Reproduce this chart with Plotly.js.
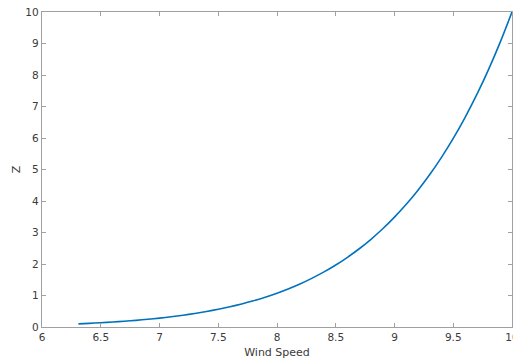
<!DOCTYPE html>
<html>
<head>
<meta charset="utf-8">
<script src="https://cdn.plot.ly/plotly-3.0.1.min.js"></script>
<style>
  html, body { margin: 0; padding: 0; background: #fff; }
  #chart { width: 513px; height: 360px; }
</style>
</head>
<body>
<div id="chart"></div>
<script>
// Height profile: wind speed against height Z
const windSpeed = [6.31, 6.4, 6.5, 6.6, 6.7, 6.8, 6.9, 7.0, 7.1, 7.2, 7.3, 7.4, 7.5, 7.6, 7.7, 7.8, 7.9,
  8.0, 8.1, 8.2, 8.3, 8.4, 8.5, 8.6, 8.7, 8.8, 8.9, 9.0, 9.1, 9.2, 9.3, 9.4, 9.5, 9.6, 9.7, 9.8, 9.9, 10.0];
const heightZ = [0.10, 0.115, 0.135, 0.157, 0.182, 0.211, 0.245, 0.282, 0.326, 0.374, 0.430, 0.492, 0.563,
  0.643, 0.733, 0.834, 0.947, 1.074, 1.216, 1.374, 1.552, 1.749, 1.969, 2.213, 2.484, 2.785, 3.118, 3.487,
  3.894, 4.344, 4.840, 5.386, 5.987, 6.648, 7.374, 8.171, 9.044, 10.0];

const xTicks = [6, 6.5, 7, 7.5, 8, 8.5, 9, 9.5, 10];
const yTicks = [0, 1, 2, 3, 4, 5, 6, 7, 8, 9, 10];

const axisColor = '#a0a0a0';
const textColor = '#3a3a3a';

const trace = {
  x: windSpeed,
  y: heightZ,
  type: 'scatter',
  mode: 'lines',
  line: { color: '#0072BD', width: 1.6, shape: 'spline', smoothing: 0.6 },
  hoverinfo: 'skip'
};

const layout = {
  width: 513,
  height: 360,
  margin: { l: 42, r: 1, t: 12, b: 33 },
  paper_bgcolor: '#ffffff',
  plot_bgcolor: '#ffffff',
  showlegend: false,
  font: { family: 'DejaVu Sans, sans-serif', size: 10.5, color: textColor },
  xaxis: {
    range: [6, 10],
    tickvals: xTicks,
    ticktext: xTicks.map(String),
    ticks: 'inside',
    ticklen: 4,
    tickwidth: 1,
    tickcolor: axisColor,
    showline: true,
    linecolor: axisColor,
    linewidth: 1.3,
    mirror: 'ticks',
    showgrid: false,
    zeroline: false,
    automargin: false,
    ticklabeloverflow: 'allow',
    tickfont: { size: 10.5, color: textColor },
    title: { text: 'Wind Speed', font: { size: 11, color: textColor }, standoff: 6 }
  },
  yaxis: {
    range: [0, 10],
    tickvals: yTicks,
    ticktext: yTicks.map(String),
    ticks: 'inside',
    ticklen: 4,
    tickwidth: 1,
    tickcolor: axisColor,
    showline: true,
    linecolor: axisColor,
    linewidth: 1.3,
    mirror: 'ticks',
    showgrid: false,
    zeroline: false,
    automargin: false,
    ticklabeloverflow: 'allow',
    tickfont: { size: 10.5, color: textColor },
    title: { text: 'Z', font: { size: 11, color: textColor }, standoff: 2 }
  }
};

Plotly.newPlot('chart', [trace], layout, { displayModeBar: false, staticPlot: true });
</script>
</body>
</html>
